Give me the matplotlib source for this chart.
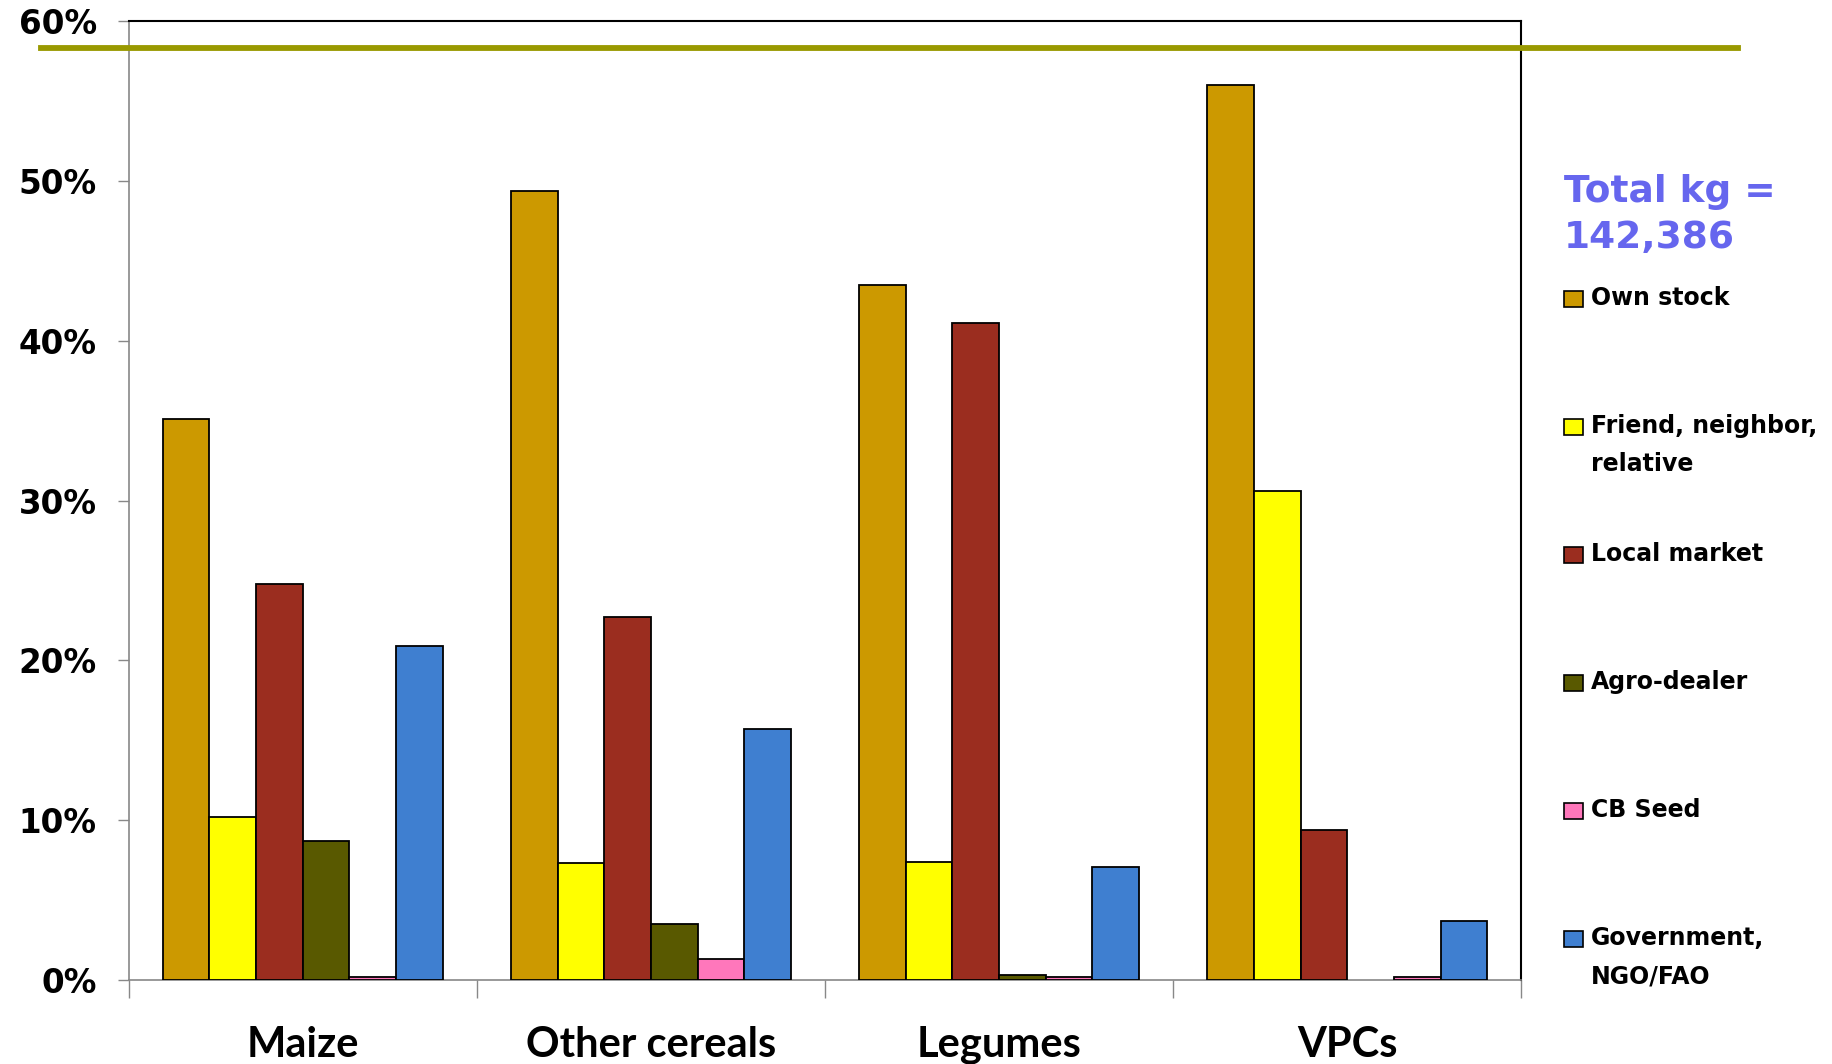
import matplotlib
matplotlib.use("Agg")
import matplotlib.pyplot as plt
import matplotlib.transforms as mtransforms
from matplotlib.patches import Rectangle
from matplotlib.lines import Line2D
import numpy as np

categories = ["Maize", "Other cereals", "Legumes", "VPCs"]
sources = ["Own stock", "Friend, neighbor,\nrelative", "Local market",
           "Agro-dealer", "CB Seed", "Government,\nNGO/FAO"]
own_stock = [35.1, 49.4, 43.5, 56.0]
friend = [10.2, 7.3, 7.4, 30.6]
local_market = [24.8, 22.7, 41.1, 9.4]
agro_dealer = [8.7, 3.5, 0.3, 0.0]
cb_seed = [0.2, 1.3, 0.2, 0.2]
government = [20.9, 15.7, 7.1, 3.7]
reference_line = 58.3
yticks = [0, 10, 20, 30, 40, 50, 60]
ytick_labels = ["0%", "10%", "20%", "30%", "40%", "50%", "60%"]
total_text = "Total kg =\n142,386"

series = [own_stock, friend, local_market, agro_dealer, cb_seed, government]
colors = ["#CC9900", "#FFFF00", "#9B2D1F", "#595900", "#FF77BB", "#3F7FD0"]

fig = plt.figure(figsize=(18.33, 10.64), dpi=100)
ax = fig.add_axes([0.0702, 0.079, 0.7598, 0.901])

x = np.arange(len(categories)) + 0.5
w = 0.134
for i, (vals, c) in enumerate(zip(series, colors)):
    v = np.array(vals, dtype=float)
    v = np.where(v == 0, np.nan, v)
    ax.bar(x + (i - 2.5) * w, v, width=w, color=c, edgecolor="black",
           linewidth=1.3, zorder=3)

ax.set_xlim(0, 4)
ax.set_ylim(0, 60)
ax.set_yticks(yticks)
ax.set_yticklabels(ytick_labels, fontsize=23.5, fontweight="bold",
                   family="DejaVu Sans")
ax.tick_params(axis="y", length=8, width=1, color="#888888", pad=15)

ax.set_xticks(x)
ax.set_xticklabels(categories, fontsize=30, fontweight="bold", family="Lato")
ax.set_xticks(np.arange(0, 5), minor=True)
ax.tick_params(axis="x", which="major", length=0, pad=33)
ax.tick_params(axis="x", which="minor", length=13, width=1, color="#888888")

for s in ["top", "right"]:
    ax.spines[s].set_color("black")
    ax.spines[s].set_linewidth(1.5)
for s in ["left", "bottom"]:
    ax.spines[s].set_color("#888888")
    ax.spines[s].set_linewidth(1.2)

# horizontal reference line extending beyond the axes
trans = mtransforms.blended_transform_factory(fig.transFigure, ax.transData)
ax.add_line(Line2D([0.0223, 0.948], [reference_line, reference_line],
                   transform=trans, color="#999900", linewidth=4.2,
                   clip_on=False, zorder=5))

# total text
fig.text(0.853, 1 - 215 / 1064, total_text, color="#6666EE", fontsize=27,
         fontweight="bold", family="DejaVu Sans", va="center", ha="left",
         linespacing=1.38)

# custom legend
y0 = 299
dy = 128
for i, (lab, c) in enumerate(zip(sources, colors)):
    yc = y0 + i * dy
    fig.patches.append(Rectangle((1564 / 1833, 1 - (yc + 8) / 1064), 19 / 1833,
                                 16 / 1064, facecolor=c, edgecolor="black",
                                 linewidth=1.2, transform=fig.transFigure))
    fig.text(1591 / 1833, 1 - (yc - 13) / 1064, lab, fontsize=17,
             fontweight="bold", family="DejaVu Sans", va="top", ha="left",
             linespacing=1.76)

fig.savefig("out.png", dpi=100)
